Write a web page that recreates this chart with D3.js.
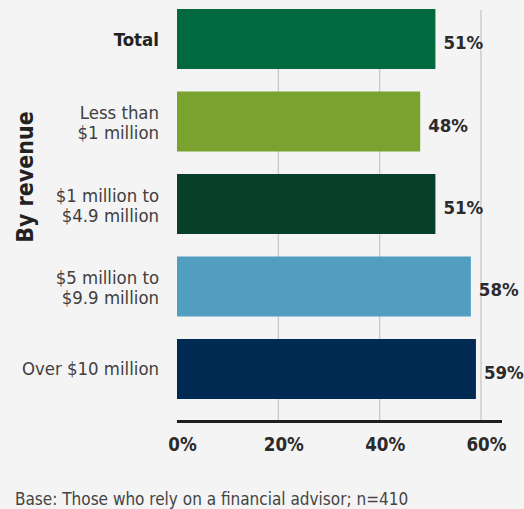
<!DOCTYPE html>
<html>
<head>
<meta charset="utf-8">
<script src="https://cdn.jsdelivr.net/npm/d3@7"></script>
<style>
  html, body { margin: 0; padding: 0; background: #f4f4f4; }
  svg { display: block; }
  text { font-family: "DejaVu Sans Condensed", "DejaVu Sans", sans-serif; }
</style>
</head>
<body>
<svg id="chart" width="524" height="509"></svg>
<script>
// Share relying on a financial advisor, by firm revenue
const categories = ["Total", "Less than\n$1 million", "$1 million to\n$4.9 million", "$5 million to\n$9.9 million", "Over $10 million"];
const values = [51, 48, 51, 58, 59];
const barColors = ["#00693e", "#79a22e", "#073f2b", "#529ec0", "#002a52"];
const tickValues = [0, 20, 40, 60];
const gridValues = [20, 40, 60];
const axisTitle = "By revenue";
const footnote = "Base: Those who rely on a financial advisor; n=410";

const svg = d3.select("#chart");

const x = d3.scaleLinear().domain([0, 60]).range([177, 481]);
const y = d3.scaleBand()
  .domain(categories)
  .range([-2.25, 410.25])
  .paddingInner(0.2727)
  .paddingOuter(0.1364);

const axisY = 421.5;

// gridlines
svg.append("g")
  .selectAll("line")
  .data(gridValues)
  .join("line")
  .attr("x1", d => x(d)).attr("x2", d => x(d))
  .attr("y1", 10).attr("y2", axisY)
  .attr("stroke", "#c4c4c4")
  .attr("stroke-width", 1.2);

// bars
svg.append("g")
  .selectAll("rect")
  .data(categories)
  .join("rect")
  .attr("x", x(0))
  .attr("y", d => y(d))
  .attr("width", (d, i) => x(values[i]) - x(0))
  .attr("height", y.bandwidth())
  .attr("fill", (d, i) => barColors[i]);

// value labels
svg.append("g")
  .selectAll("text")
  .data(categories)
  .join("text")
  .attr("x", (d, i) => x(values[i]) + 8)
  .attr("y", d => y(d) + y.bandwidth() / 2 + 10)
  .attr("font-size", 18.5)
  .attr("font-weight", "bold")
  .attr("fill", "#2b2b2b")
  .text((d, i) => values[i] + "%");

// category labels
const catG = svg.append("g");
categories.forEach((c, i) => {
  const lines = c.split("\n");
  const cy = y(c) + y.bandwidth() / 2;
  const t = catG.append("text")
    .attr("x", 159)
    .attr("text-anchor", "end")
    .attr("font-size", i === 0 ? 18.5 : 18.4)
    .attr("fill", i === 0 ? "#222" : "#404040")
    .attr("font-weight", i === 0 ? "bold" : "normal");
  if (lines.length === 1) {
    t.attr("y", cy + 6.5).text(c);
  } else {
    lines.forEach((ln, k) => {
      t.append("tspan").attr("x", 159).attr("y", cy - 2.5 + k * 20).text(ln);
    });
  }
});

// x axis
const xAxis = d3.axisBottom(x)
  .tickValues(tickValues)
  .tickSize(0)
  .tickFormat(d => d + "%");
const ax = svg.append("g")
  .attr("transform", `translate(0,${axisY})`)
  .call(xAxis);
ax.select(".domain").remove();
ax.selectAll(".tick text")
  .attr("y", 29.5)
  .attr("dy", 0)
  .attr("dx", 5)
  .attr("font-size", 18.6)
  .attr("font-weight", "bold")
  .attr("fill", "#2b2b2b")
  .attr("font-family", null);

svg.append("line")
  .attr("x1", x(0)).attr("x2", x.range()[1] + 21)
  .attr("y1", axisY).attr("y2", axisY)
  .attr("stroke", "#1e1e1e")
  .attr("stroke-width", 3);

// vertical group title
svg.append("text")
  .attr("transform", `translate(33,${(y.range()[0] + y.range()[1]) / 2 - 27}) rotate(-90)`)
  .attr("text-anchor", "middle")
  .attr("font-size", 23)
  .attr("font-weight", "bold")
  .attr("fill", "#222")
  .text(axisTitle);

// footnote
svg.append("text")
  .attr("x", 15)
  .attr("y", 505)
  .attr("font-size", 17)
  .attr("fill", "#444")
  .text(footnote);
</script>
</body>
</html>
